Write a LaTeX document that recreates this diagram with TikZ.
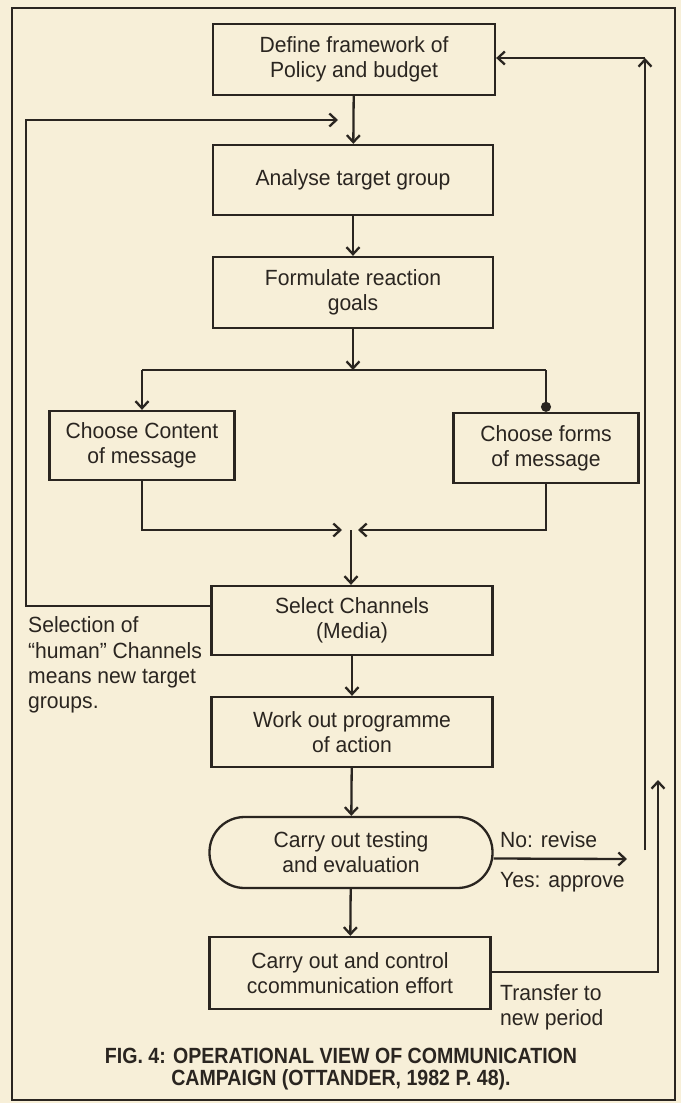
\documentclass[tikz,border=0pt]{standalone}
\usepackage{fontspec}
\setmainfont{Liberation Sans}[FakeStretch=0.96]
\newfontfamily\capfont{Liberation Sans}[FakeStretch=0.89]
\usetikzlibrary{arrows.meta}
\definecolor{bgc}{HTML}{F7EFD8}
\definecolor{inkc}{HTML}{2A2520}
\begin{document}
\begin{tikzpicture}[x=1pt,y=-1pt,
  ink/.style={draw=inkc, line width=2.3pt},
  box/.style={ink, rectangle, align=center, inner sep=0pt, font=\fontsize{22}{25}\selectfont, text=inkc},
  lbl/.style={align=left, inner sep=0pt, font=\fontsize{22}{25.3}\selectfont, text=inkc},
  arr/.style={ink, -{Straight Barb[length=7pt,width=13pt,line width=2.3pt]}},
  blob/.style={ink, -{Circle[length=10pt]}},
  plain/.style={ink}
]
\fill[bgc] (0,0) rectangle (681,1103);
\useasboundingbox (0,0) rectangle (681,1103);
\draw[ink, line width=2.6pt] (12,8) rectangle (675,1100);

\node[box, minimum width=282pt, minimum height=71pt] (def) at (354,59.5) {Define framework of\\Policy and budget};
\node[box, minimum width=280pt, minimum height=70pt] (ana) at (353,180) {Analyse target group};
\node[box, minimum width=280pt, minimum height=71pt] (form) at (353,292.5) {Formulate reaction\\goals};
\node[box, minimum width=185pt, minimum height=69pt] (cont) at (142,445.5) {Choose Content\\of message};
\node[box, minimum width=185pt, minimum height=70pt] (forms) at (546,448) {Choose forms\\of message};
\node[box, minimum width=281pt, minimum height=69pt] (sel) at (352,620.5) {Select Channels\\(Media)};
\node[box, minimum width=281pt, minimum height=70pt] (work) at (352,732) {Work out programme\\of action};
\node[box, rounded corners=35pt, minimum width=283pt, minimum height=71pt] (test) at (351,852.5) {Carry out testing\\and evaluation};
\node[box, minimum width=281pt, minimum height=72pt] (ctrl) at (350,973) {Carry out and control\\ccommunication effort};

% main chain
\draw[arr] (def) -- (ana);
\draw[arr] (ana) -- (form);
\coordinate (br) at (353,370);
\draw[arr] (form) -- (br);
\draw[plain] (cont.north |- br) -- (forms.north |- br);
\draw[arr] (cont.north |- br) -- (cont.north);
\draw[blob] (forms.north |- br) -- (forms.north);
\coordinate (mg) at (351,530);
\coordinate (mgl) at (342,530);
\coordinate (mgr) at (358,530);
\draw[arr] (cont.south) -- (cont.south |- mg) -- (mgl);
\draw[arr] (forms.south) -- (forms.south |- mg) -- (mgr);
\draw[arr] (mg) -- (sel.north -| mg);
\draw[arr] (sel) -- (work);
\draw[arr] (work) -- (test);
\draw[arr] (test) -- (ctrl);

% left feedback loop
\coordinate (lt) at (26,120);
\coordinate (ltend) at (338,120);
\draw[arr] ([yshift=14.5pt]sel.west) -- ([yshift=14.5pt]sel.west -| lt) -- (lt) -- (ltend);

% right revise loop
\coordinate (rt) at (645,58);
\coordinate (rb) at (645,850);
\draw[arr] (rb) -- (rt);
\draw[arr] (rt) -- (def.east |- rt);
\coordinate (nr) at (627,859);
\draw[arr] ([yshift=-6pt]test.east) -- (nr);

% transfer to new period
\coordinate (tr) at (658,780);
\draw[arr] ([yshift=1pt]ctrl.east) -- ([yshift=1pt]ctrl.east -| tr) -- (tr);

% labels
\node[lbl, anchor=west] (no) at (500,840) {No: revise};
\node[lbl, anchor=west] (yes) at (500,882) {Yes: approve};
\node[lbl, anchor=west] (trans) at (500,1007) {Transfer to\\new period};
\node[lbl, anchor=west] (note) at (28,665) {Selection of\\“human” Channels\\means new target\\groups.};

\node[inner sep=0pt, align=center, text=inkc, font=\capfont\bfseries\fontsize{22}{22.5}\selectfont] (cap) at (341,1069) {FIG. 4: OPERATIONAL VIEW OF COMMUNICATION\\CAMPAIGN (OTTANDER, 1982 P. 48).};
\end{tikzpicture}
\end{document}
